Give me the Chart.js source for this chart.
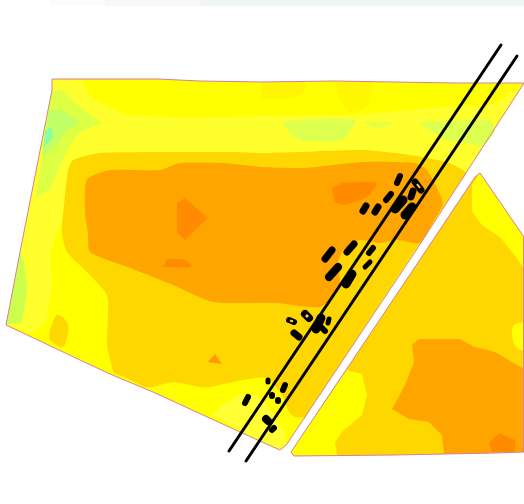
<!DOCTYPE html>
<html>
<head>
<meta charset="utf-8">
<title>Mapa</title>
<script src="https://cdn.jsdelivr.net/npm/chart.js@4/dist/chart.umd.min.js"></script>
<style>
    html, body { margin: 0; padding: 0; background: #fff; }
    canvas { display: block; }
</style>
</head>
<body>
<canvas id="myChart" width="524" height="504"></canvas>
<script>
// all shapes are [x, y] in picture units
const stripA = [[50, 0], [105, 0], [105, 6], [50, 6]];
const stripB = [[105, 0], [200, 0], [200, 6], [105, 6]];
const stripC = [[200, 0], [524, 0], [524, 6], [200, 6]];

const fieldLeft = [[52, 79], [158, 79], [200, 81], [262, 82], [335, 81], [455, 83], [524, 83], [415, 252], [287, 444], [280, 450], [262, 442], [240, 432], [153, 392], [110, 374], [80, 360], [6, 325], [20, 252], [52, 90]];
const fieldRight = [[480, 173], [524, 237], [524, 452], [495, 453], [395, 455], [294, 456], [291, 452], [425, 252], [475, 177]];

const paleBand = [[52, 79], [83, 81], [90, 98], [125, 115], [190, 118], [262, 116], [356, 115], [429, 108], [495, 104], [524, 84], [466, 173], [250, 200], [68, 200], [62, 220], [50, 252], [52, 285], [46, 322], [30, 333], [6, 325], [20, 252], [52, 90]];
const paleBottom = [[213, 415], [225, 403], [243, 394], [262, 398], [272, 412], [284, 430], [286, 445], [280, 450], [262, 442]];
const patchTop = [[262, 83], [305, 83], [303, 94], [285, 98], [262, 98]];
const patchMid = [[335, 82], [372, 83], [368, 106], [350, 112], [340, 100]];

const limeOuter = [[52, 90], [62, 90], [78, 105], [102, 123], [80, 132], [70, 145], [60, 165], [50, 190], [36, 197], [44, 140]];
const limeInner = [[50, 110], [62, 110], [80, 122], [65, 132], [52, 150], [43, 155], [46, 125]];
const aquaCore = [[45, 131], [52, 127], [53, 138], [43, 148]];
const limeLower = [[20, 252], [24, 262], [27, 290], [22, 322], [6, 325]];
const limeTopA = [[282, 123], [295, 120], [355, 120], [342, 140], [299, 140]];
const limeTopB = [[362, 122], [395, 122], [378, 128]];
const limeTopC = [[419, 122], [489, 120], [495, 130], [482, 147], [469, 143], [445, 140]];

const goldLeft = [[68, 170], [73, 160], [100, 153], [187, 152], [233, 152], [262, 153], [362, 150], [395, 153], [422, 157], [449, 163], [466, 173], [460, 182], [311, 408], [305, 417], [295, 417], [289, 412], [283, 397], [267, 378], [243, 380], [210, 387], [200, 387], [173, 382], [153, 387], [145, 387], [135, 382], [122, 376], [114, 373], [107, 345], [108, 319], [107, 295], [87, 272], [67, 252], [62, 233], [65, 195]];
const goldBlob = [[50, 330], [57, 315], [67, 322], [68, 332], [63, 347], [50, 340]];

const orangeLeft = [[85, 187], [88, 178], [110, 170], [160, 170], [180, 163], [223, 163], [262, 167], [305, 168], [362, 162], [415, 163], [427, 170], [443, 203], [433, 222], [420, 243], [397, 240], [380, 243], [360, 240], [343, 250], [338, 263], [340, 287], [320, 307], [277, 303], [213, 302], [173, 285], [133, 269], [90, 252], [88, 233], [85, 213]];

const darkA = [[177, 203], [185, 198], [208, 218], [185, 240], [177, 233]];
const darkB = [[163, 267], [168, 259], [185, 260], [192, 267]];
const darkC = [[332, 188], [343, 183], [377, 183], [367, 197], [345, 205], [335, 202]];
const darkD = [[208, 362], [215, 354], [222, 364]];

const yellowApex = [[480, 173], [524, 237], [524, 268], [512, 252], [501, 238], [482, 225], [472, 212], [472, 185]];
const yellowSide = [[524, 322], [514, 325], [512, 335], [516, 347], [524, 350]];
const yellowBottom = [[347, 370], [362, 374], [367, 395], [362, 415], [342, 432], [335, 442], [337, 455], [294, 456], [291, 452]];
const orangeRight = [[412, 345], [419, 339], [459, 339], [475, 347], [495, 352], [524, 369], [524, 452], [495, 453], [444, 454], [442, 435], [429, 422], [409, 419], [392, 409], [405, 385], [414, 362]];
const darkRight = [[489, 442], [500, 433], [515, 440], [515, 452], [492, 452]];

const trackA = [[501, 45], [229, 451]];
const trackB = [[517, 56], [246, 461]];

const buildings = [
    [[400, 176], [397, 183]], [[415, 182], [421, 190]], [[413, 191], [411, 197]], [[391, 194], [386, 200]],
    [[403, 200], [395, 209]], [[412, 207], [405, 215]], [[366, 206], [363, 211]], [[378, 207], [375, 212]],
    [[354, 244], [347, 252]], [[332, 250], [325, 259]], [[338, 267], [329, 277]], [[373, 248], [369, 253]],
    [[370, 262], [365, 267]], [[352, 274], [346, 284]], [[289, 320], [294, 322]], [[305, 314], [309, 318]],
    [[321, 318], [316, 329]], [[329, 319], [328, 323]], [[322, 328], [325, 331]], [[294, 333], [299, 337]],
    [[268, 380], [268, 382]], [[285, 385], [283, 390]], [[272, 395], [272, 396]], [[278, 400], [278, 401]],
    [[248, 397], [245, 403]], [[266, 419], [268, 421]], [[274, 428], [272, 430]]
];
const buildingWidths = [6, 7, 7, 6, 9, 9, 7, 7, 7, 7, 8, 6, 5, 9, 6, 8, 9, 5, 6, 7, 5, 6, 6, 6, 6, 8, 6];
const openBuildings = [[[417, 184], [420, 188]], [[290, 320.5], [293, 321.5]], [[306, 315], [308, 317]]];
const openWidths = [2, 2, 3];

const toPoints = pts => pts.map(p => ({ x: p[0], y: p[1] }));

// drawn bottom to top, third value is how much the outline gets rounded
const areas = [
    [stripA, '#fbfcfb', 0], [stripB, '#f7f9f8', 0], [stripC, '#f0f6f2', 0],
    [fieldLeft, '#ffff00', 0], [paleBand, '#ffff2e', 0], [paleBottom, '#ffff33', 0.2],
    [patchTop, '#fff500', 0.2], [patchMid, '#fff700', 0.2],
    [limeOuter, '#ddff44', 0], [limeInner, '#c0ff66', 0], [aquaCore, '#88ffa0', 0], [limeLower, '#ccff4d', 0],
    [limeTopA, '#ddff4d', 0.2], [limeTopB, '#e5ff40', 0.2], [limeTopC, '#ddff4d', 0.2],
    [goldLeft, '#ffd700', 0.2], [goldBlob, '#ffd700', 0.3], [orangeLeft, '#ffa500', 0.2],
    [darkA, '#ff8c00', 0], [darkB, '#ff8c00', 0.2], [darkC, '#ff8c00', 0.2], [darkD, '#ff9a00', 0],
    [fieldRight, '#ffd700', 0], [yellowApex, '#ffff00', 0], [yellowSide, '#ffff00', 0.3], [yellowBottom, '#ffff00', 0],
    [orangeRight, '#ffa500', 0], [darkRight, '#ff8c00', 0]
];

const layers = [];
areas.forEach(a => {
    const pts = toPoints(a[0]);
    pts.push(pts[0]);
    layers.push({ data: pts, showLine: true, fill: 'shape', backgroundColor: a[1], borderWidth: 0, pointRadius: 0, tension: a[2] });
});
[fieldLeft, fieldRight].forEach(f => {
    const pts = toPoints(f);
    pts.push(pts[0]);
    layers.push({ data: pts, showLine: true, fill: false, borderColor: '#d57f9f', borderWidth: 1, pointRadius: 0 });
});
[trackA, trackB].forEach(t => {
    layers.push({ data: toPoints(t), showLine: true, fill: false, borderColor: '#000', borderWidth: 3, borderCapStyle: 'round', pointRadius: 0 });
});
buildings.forEach((b, i) => {
    layers.push({ data: toPoints(b), showLine: true, fill: false, borderColor: '#000', borderWidth: buildingWidths[i], borderCapStyle: 'round', pointRadius: 0 });
});
openBuildings.forEach((b, i) => {
    layers.push({ data: toPoints(b), showLine: true, fill: false, borderColor: '#ffd23c', borderWidth: openWidths[i], borderCapStyle: 'butt', pointRadius: 0 });
});
layers.forEach((d, i) => { d.order = -i; });

const ctx = document.getElementById('myChart').getContext('2d');
new Chart(ctx, {
    type: 'scatter',
    data: { datasets: layers },
    options: {
        responsive: false,
        animation: false,
        layout: { padding: 0 },
        plugins: { legend: { display: false }, tooltip: { enabled: false } },
        scales: {
            x: { display: false, min: 0, max: 524 },
            y: { display: false, min: 0, max: 504, reverse: true }
        }
    }
});
</script>
</body>
</html>
